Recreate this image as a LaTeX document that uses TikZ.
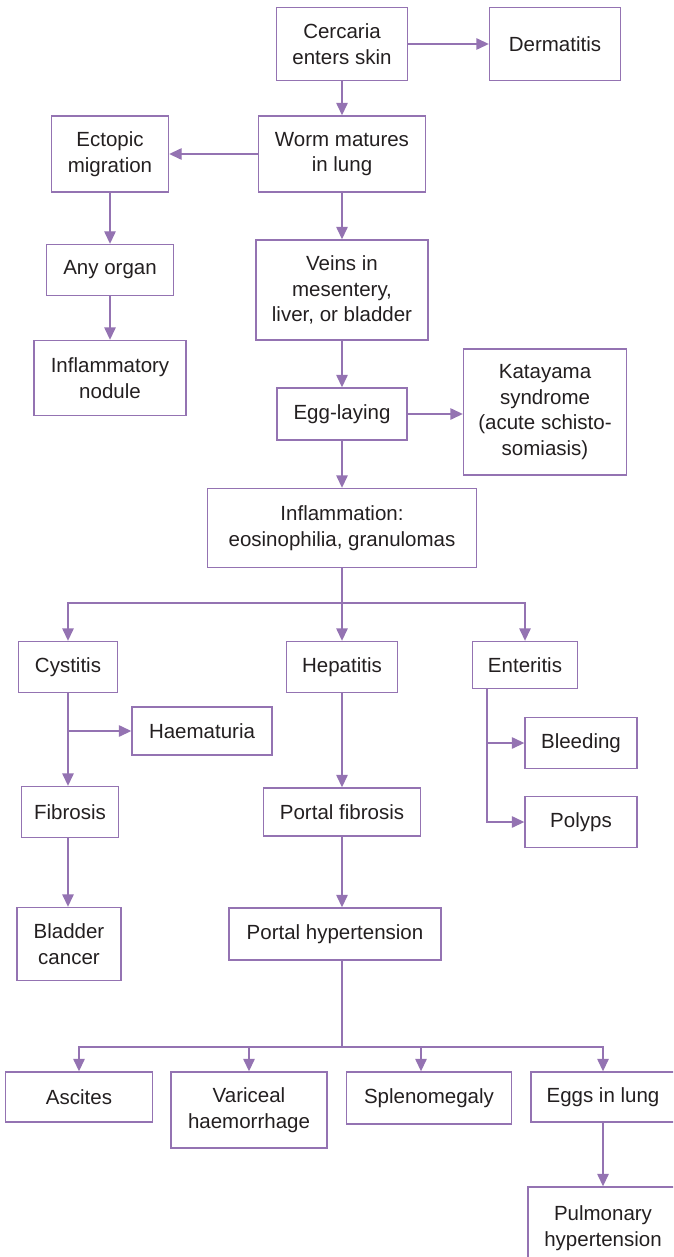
\documentclass[tikz,border=0pt]{standalone}
\usepackage{fontspec}
\setmainfont{Liberation Sans}
\usetikzlibrary{arrows.meta}
\definecolor{pur}{RGB}{148,115,178}
\definecolor{ink}{RGB}{35,31,32}
\begin{document}
\begin{tikzpicture}[x=1pt,y=-1pt,
  box/.style={draw=pur, line width=1.4pt, align=center, inner sep=0pt,
    text=ink, font=\fontsize{20.5}{25.5}\selectfont},
  link/.style={draw=pur, line width=1.4pt, -{Triangle[length=12.5pt,width=11.5pt]}},
  plain/.style={draw=pur, line width=1.4pt}]
\useasboundingbox (0,0) rectangle (673,1257);
\clip (0,0) rectangle (673,1257);

% main trunk
\node[box, minimum width=131, minimum height=73] (cerc) at (342,44) {Cercaria\\enters skin};
\node[box, minimum width=131, minimum height=73] (derm) at (555,44) {Dermatitis};
\node[box, minimum width=167, minimum height=76] (worm) at (342,154) {Worm matures\\in lung};
\node[box, minimum width=117, minimum height=76] (ecto) at (110,154) {Ectopic\\migration};
\node[box, minimum width=127, minimum height=51] (organ) at (110,270) {Any organ};
\node[box, minimum width=152, minimum height=75] (nod) at (110,378) {Inflammatory\\nodule};
\node[box, minimum width=172, minimum height=100] (vein) at (342,290) {Veins in\\mesentery,\\liver, or bladder};
\node[box, minimum width=130, minimum height=52] (egg) at (342,414) {Egg-laying};
\node[box, minimum width=163, minimum height=126] (kata) at (545,412) {Katayama\\syndrome\\(acute schisto-\\somiasis)};
\node[box, minimum width=269, minimum height=79] (infl) at (342,528) {Inflammation:\\eosinophilia, granulomas};

% three organ branches
\node[box, minimum width=99, minimum height=51] (cyst) at (68,667) {Cystitis};
\node[box, minimum width=111, minimum height=51] (hep) at (342,667) {Hepatitis};
\node[box, minimum width=105, minimum height=47] (ent) at (525,665) {Enteritis};
\node[box, minimum width=140, minimum height=48] (haem) at (202,731) {Haematuria};
\node[box, minimum width=97, minimum height=51] (fib) at (70,812) {Fibrosis};
\node[box, minimum width=104, minimum height=73] (blad) at (69,944) {Bladder\\cancer};
\node[box, minimum width=112, minimum height=51] (bleed) at (581,743) {Bleeding};
\node[box, minimum width=112, minimum height=51] (polyp) at (581,822) {Polyps};
\node[box, minimum width=157, minimum height=48] (pfib) at (342,812) {Portal fibrosis};
\node[box, minimum width=212, minimum height=52] (phyp) at (335,934) {Portal hypertension};

% consequences of portal hypertension
\node[box, minimum width=147, minimum height=50] (asc) at (79,1097) {Ascites};
\node[box, minimum width=156, minimum height=76] (var) at (249,1110) {Variceal\\haemorrhage};
\node[box, minimum width=165, minimum height=52] (spl) at (429,1098) {Splenomegaly};
\node[box, minimum width=144, minimum height=50] (lung) at (603,1097) {Eggs in lung};
\node[box, minimum width=150, minimum height=82] (pulm) at (603,1228) {Pulmonary\\hypertension};

% connectors
\draw[link] (cerc) -- (derm);
\draw[link] (cerc) -- (worm);
\draw[link] (worm) -- (ecto);
\draw[link] (ecto) -- (organ);
\draw[link] (organ) -- (nod);
\draw[link] (worm) -- (vein);
\draw[link] (vein) -- (egg);
\draw[link] (egg) -- (egg -| kata.west);
\draw[link] (egg) -- (infl);

\coordinate (split1) at (342,603);
\draw[plain] (infl.south) -- (split1);
\draw[link] (split1) -| (cyst.north);
\draw[link] (split1) -| (ent.north);
\draw[link] (split1) -- (hep.north);

\draw[link] (cyst.south) -- (cyst.south |- fib.north);
\draw[link] (cyst.south |- haem.west) -- (haem.west);
\draw[link] (cyst.south |- fib.south) -- (cyst.south |- blad.north);

\coordinate (entfoot) at ([xshift=15pt]ent.south west);
\draw[link] (entfoot) |- (bleed.west);
\draw[link] (entfoot) |- (polyp.west);

\draw[link] (hep) -- (pfib);
\draw[link] (pfib) -- (pfib |- phyp.north);

\coordinate (split2) at (342,1047);
\draw[plain] (phyp.south -| split2) -- (split2);
\draw[link] (split2) -| (asc.north);
\draw[link] (split2) -| (var.north);
\draw[link] (split2) -| ([xshift=-8pt]spl.north);
\draw[link] (split2) -| (lung.north);
\draw[link] (lung) -- (pulm);
\end{tikzpicture}
\end{document}
